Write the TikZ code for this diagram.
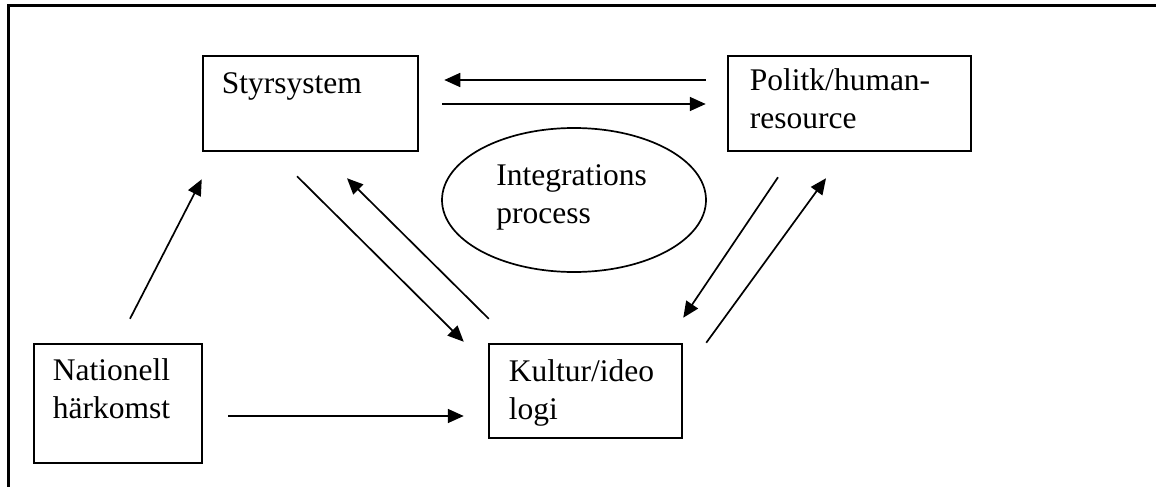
\documentclass[tikz,border=0pt]{standalone}
\usepackage{fontspec}
\setmainfont{Liberation Serif}
\usetikzlibrary{arrows.meta,shapes.geometric}
\tikzstyle{box}=[rectangle,draw,line width=2.5pt,inner sep=0pt]
\tikzstyle{oval}=[ellipse,draw,line width=1.7pt,inner sep=0pt]
\tikzstyle{boxtext}=[anchor=base west,inner sep=0pt,text width=250pt,align=left,font=\fontsize{31.5}{38}\selectfont]
\tikzstyle{edge}=[draw,line width=1.7pt,-{Triangle[length=16pt,width=14pt]}]

\begin{document}
\begin{tikzpicture}[x=1pt,y=-1pt]
    \useasboundingbox (0,0) rectangle (1156,487);
    % page frame, open at the right and the bottom
    \draw[line width=3pt] (8,487) -- (8,6) -- (1156,6);

    % the boxes and the oval
    \node[box, minimum width=215pt, minimum height=95pt] (sty) at (310.5,103.5) {};
    \node[box, minimum width=243pt, minimum height=95pt] (pol) at (849.5,103.5) {};
    \node[box, minimum width=168pt, minimum height=119pt] (nat) at (118,403.5) {};
    \node[box, minimum width=193pt, minimum height=94pt] (kul) at (585.5,391) {};
    \node[oval, minimum width=264pt, minimum height=144pt] (int) at (574,200) {};

    % their texts
    \node[boxtext] (sty-t) at ([shift={(20,39)}]sty.north west) {Styrsystem};
    \node[boxtext] (pol-t) at ([shift={(23,36)}]pol.north west) {Politk/human-\\resource};
    \node[boxtext] (nat-t) at ([shift={(20,38)}]nat.north west) {Nationell\\härkomst};
    \node[boxtext] (kul-t) at ([shift={(21,39)}]kul.north west) {Kultur/ideo\\logi};
    \node[boxtext] (int-t) at ([shift={(55,-15)}]int.west) {Integrations\\process};

    % connectors
    \path[edge] ([shift={(-21,-23.5)}]pol.west) -- ([shift={(25,-23.5)}]sty.east);
    \path[edge] ([shift={(23,0.5)}]sty.east) -- ([shift={(-21,0.5)}]pol.west);
    \path[edge] ([shift={(12,-24)}]nat.north) -- ([shift={(0,27)}]sty.south west);
    \path[edge] ([shift={(-13.5,24)}]sty.south) -- ([shift={(-24,-1)}]kul.north west);
    \path[edge] ([shift={(1,-24)}]kul.north west) -- ([shift={(36.5,26)}]sty.south);
    \path[edge] ([shift={(-71.5,25)}]pol.south) -- ([shift={(0,-25)}]kul.north east);
    \path[edge] ([shift={(23,0)}]kul.north east) -- ([shift={(-23.5,26)}]pol.south);
    \path[edge] ([shift={(25,12.5)}]nat.east) -- ([shift={(-24,25)}]kul.west);
\end{tikzpicture}
\end{document}
